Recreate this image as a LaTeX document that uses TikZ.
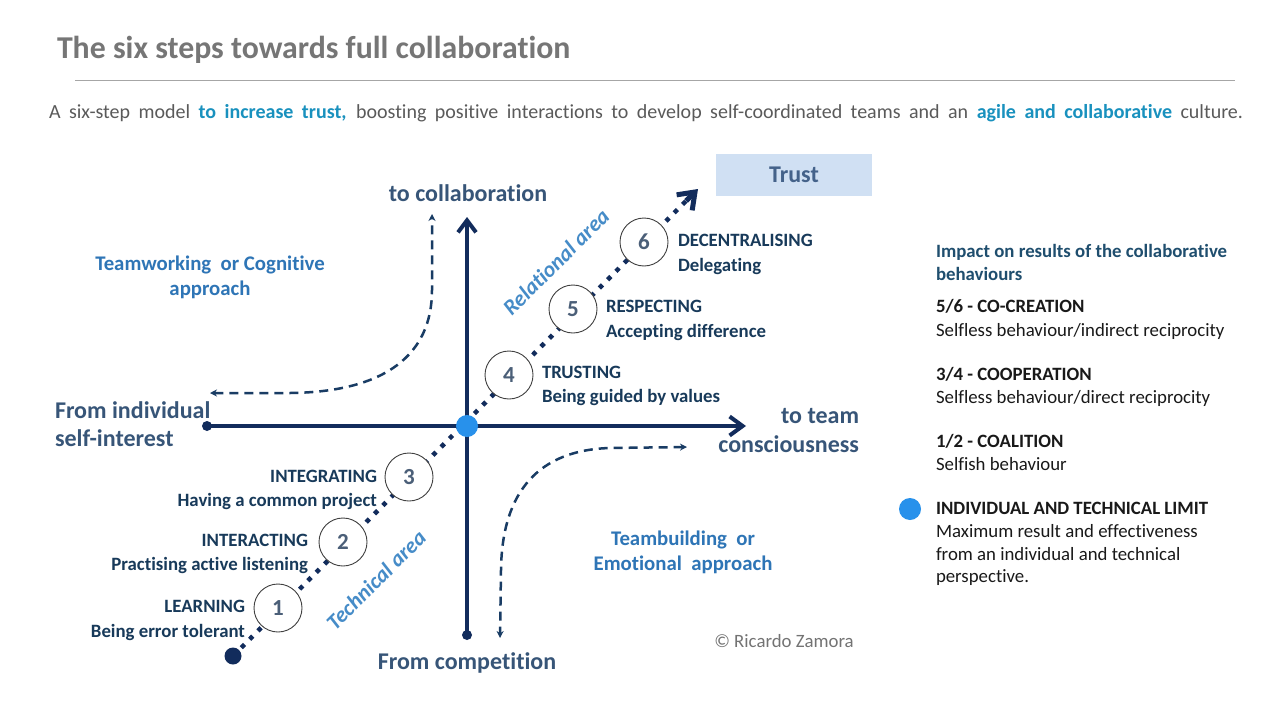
\documentclass[tikz,border=0pt]{standalone}
\usepackage{fontspec}
\setmainfont{Carlito}[Ligatures=NoCommon]
\usetikzlibrary{arrows.meta}
\definecolor{navy}{RGB}{18,44,92}
\definecolor{steptxt}{RGB}{24,58,90}
\definecolor{axtxt}{RGB}{55,85,120}
\definecolor{apptxt}{RGB}{46,117,182}
\definecolor{areatxt}{RGB}{70,140,200}
\definecolor{hltxt}{RGB}{25,145,190}
\definecolor{subgray}{RGB}{90,90,90}
\definecolor{titlegray}{RGB}{118,118,118}
\definecolor{bluedot}{RGB}{40,145,235}
\definecolor{digit}{RGB}{75,95,120}
\definecolor{trustfill}{RGB}{208,224,243}
\definecolor{trusttxt}{RGB}{68,98,138}
\definecolor{impact}{RGB}{31,78,110}
\definecolor{dashc}{RGB}{25,60,100}
\definecolor{panel}{RGB}{25,25,25}
\begin{document}
\begin{tikzpicture}[x=1pt,y=-1pt,
  txt/.style={inner sep=0pt, outer sep=0pt},
  stepname/.style={txt, yshift=-4.5pt, font=\fontsize{18.8}{22}\selectfont\bfseries, text=steptxt},
  stepcircle/.style={circle, draw=black!75, line width=0.9pt, fill=white, minimum size=48pt, inner sep=0pt, font=\fontsize{23}{26}\selectfont\bfseries, text=digit},
  axlabel/.style={txt, yshift=-6pt, font=\fontsize{24}{28}\selectfont\bfseries, text=axtxt},
  approach/.style={txt, yshift=-5pt, font=\fontsize{20.8}{24}\selectfont\bfseries, text=apptxt},
  area/.style={txt, font=\fontsize{22}{26}\selectfont\bfseries\itshape, text=areatxt, rotate=45},
  axis/.style={draw=navy, line width=4pt},
  enddot/.style={circle, fill=navy, inner sep=0pt},
  dashcurve/.style={draw=dashc, line width=2.5pt, dash pattern=on 9pt off 6pt, {Stealth[length=7pt,width=7pt]}-{Stealth[length=7pt,width=7pt]}},
  ptxt/.style={txt, yshift=-4.5pt, font=\fontsize{18.8}{22}\selectfont, text=panel},
  phead/.style={txt, yshift=-4.5pt, font=\fontsize{18.8}{22}\selectfont\bfseries, text=panel},
]
\useasboundingbox (0,0) rectangle (1280,720);
\fill[white] (0,0) rectangle (1280,720);

% title and subtitle
\node[txt, anchor=mid west, yshift=-7.5pt, font=\fontsize{31.8}{36}\selectfont\bfseries, text=titlegray] (title) at (57,49) {The six steps towards full collaboration};
\coordinate (rl) at (75,80);
\coordinate (rr) at (1235,80);
\draw[black!35, line width=1pt] (rl) -- (rr);
\node[txt, anchor=mid west, yshift=-5pt, font=\fontsize{20}{24}\selectfont, text=subgray] (subtitle) at (49,111) {\makebox[1194pt][s]{A six-step model \textcolor{hltxt}{\bfseries to increase trust,} boosting positive interactions to develop self-coordinated teams and an \textcolor{hltxt}{\bfseries agile and collaborative} culture.}};

% dashed curves
\coordinate (ulleft) at (210,393);
\coordinate (ultop) at (432,214);
\draw[dashcurve] (ulleft) -- (290,393) .. controls (385,392) and (432,355) .. (432,290) -- (ultop);
\coordinate (lrright) at (687,447);
\coordinate (lrbottom) at (500,638);
\draw[dashcurve] (lrright) -- (610,448) .. controls (540,450) and (502,490) .. (501,570) -- (lrbottom);

% axes
\node[enddot, minimum size=10pt] (hstart) at (207,426) {};
\coordinate (hend) at (746,426);
\node[enddot, minimum size=10pt] (vstart) at (467,635) {};
\coordinate (vend) at (467,217);
\draw[axis, -{Straight Barb[length=13pt,width=19pt]}] (hstart.center) -- (hend);
\draw[axis, -{Straight Barb[length=12pt,width=18pt]}] (vstart.center) -- (vend);

% diagonal
\node[enddot, minimum size=17pt] (dstart) at (233,656) {};
\coordinate (dend) at (698,189);
\coordinate (dpre) at (686,201);
\draw[navy, line width=4.5pt, dash pattern=on 4.5pt off 7.3pt] (dstart.center) -- (dpre);
\draw[navy, line width=5pt, -{Straight Barb[length=15pt,width=22pt]}] (dpre) -- (dend);

% origin
\node[circle, fill=bluedot, minimum size=22pt, inner sep=0pt] (origin) at (467,426) {};

% step circles
\node[stepcircle] (c1) at (278,608) {1};
\node[stepcircle] (c2) at (343,542) {2};
\node[stepcircle] (c3) at (409,477) {3};
\node[stepcircle] (c4) at (509,375) {4};
\node[stepcircle] (c5) at (573,309) {5};
\node[stepcircle] (c6) at (644,242) {6};

% step labels
\node[stepname, anchor=mid east] (s1a) at (245,606) {LEARNING};
\node[stepname, anchor=mid east] (s1b) at (245,631) {Being error tolerant};
\node[stepname, anchor=mid east] (s2a) at (308,540) {INTERACTING};
\node[stepname, anchor=mid east] (s2b) at (308,564) {Practising active listening};
\node[stepname, anchor=mid east] (s3a) at (377,476) {INTEGRATING};
\node[stepname, anchor=mid east] (s3b) at (377,500) {Having a common project};
\node[stepname, anchor=mid west] (s4a) at (542,372) {TRUSTING};
\node[stepname, anchor=mid west] (s4b) at (542,396) {Being guided by values};
\node[stepname, anchor=mid west] (s5a) at (606,306) {RESPECTING};
\node[stepname, anchor=mid west] (s5b) at (606,331) {Accepting difference};
\node[stepname, anchor=mid west] (s6a) at (678,240) {DECENTRALISING};
\node[stepname, anchor=mid west] (s6b) at (678,265) {Delegating};

% axis labels
\node[axlabel, anchor=mid] (lcollab) at (468,193) {to collaboration};
\node[axlabel, anchor=mid west] (lind1) at (55,410) {From individual};
\node[axlabel, anchor=mid west] (lind2) at (55,438) {self-interest};
\node[axlabel, anchor=mid east] (lteam1) at (859,415) {to team};
\node[axlabel, anchor=mid east] (lteam2) at (859,444) {consciousness};
\node[axlabel, anchor=mid] (lcomp) at (467,661) {From competition};

% approaches
\node[approach, anchor=mid] (ap1a) at (210,263) {Teamworking\ \ or Cognitive};
\node[approach, anchor=mid] (ap1b) at (210,288) {approach};
\node[approach, anchor=mid] (ap2a) at (683,538) {Teambuilding\ \ or};
\node[approach, anchor=mid] (ap2b) at (683,563) {Emotional\ \ approach};

% areas
\node[area] (rel) at (556,262) {Relational area};
\node[area] (tech) at (376,580) {Technical area};

% trust
\node[fill=trustfill, minimum width=156pt, minimum height=42pt, inner sep=0pt, font=\fontsize{24}{28}\selectfont\bfseries, text=trusttxt] (trust) at (794,175) {Trust};

% copyright
\node[txt, anchor=mid, yshift=-4.5pt, font=\fontsize{18.8}{22}\selectfont, text=black!55] (copy) at (784,641) {© Ricardo Zamora};

% right panel
\node[txt, anchor=mid west, yshift=-4.5pt, font=\fontsize{18.8}{22}\selectfont\bfseries, text=impact] (ph1) at (936,251) {Impact on results of the collaborative};
\node[txt, anchor=mid west, yshift=-4.5pt, font=\fontsize{18.8}{22}\selectfont\bfseries, text=impact] (ph2) at (936,274) {behaviours};
\node[phead, anchor=mid west] (p56a) at (936,306) {5/6 - CO-CREATION};
\node[ptxt, anchor=mid west] (p56b) at (936,330) {Selfless behaviour/indirect reciprocity};
\node[phead, anchor=mid west] (p34a) at (936,374) {3/4 - COOPERATION};
\node[ptxt, anchor=mid west] (p34b) at (936,397) {Selfless behaviour/direct reciprocity};
\node[phead, anchor=mid west] (p12a) at (936,441) {1/2 - COALITION};
\node[ptxt, anchor=mid west] (p12b) at (936,464) {Selfish behaviour};
\node[circle, fill=bluedot, minimum size=22pt, inner sep=0pt] (pdot) at (910,509) {};
\node[phead, anchor=mid west] (plima) at (936,508) {INDIVIDUAL AND TECHNICAL LIMIT};
\node[ptxt, anchor=mid west] (plimb) at (936,531) {Maximum result and effectiveness};
\node[ptxt, anchor=mid west] (plimc) at (936,554) {from an individual and technical};
\node[ptxt, anchor=mid west] (plimd) at (936,576) {perspective.};
\end{tikzpicture}
\end{document}
